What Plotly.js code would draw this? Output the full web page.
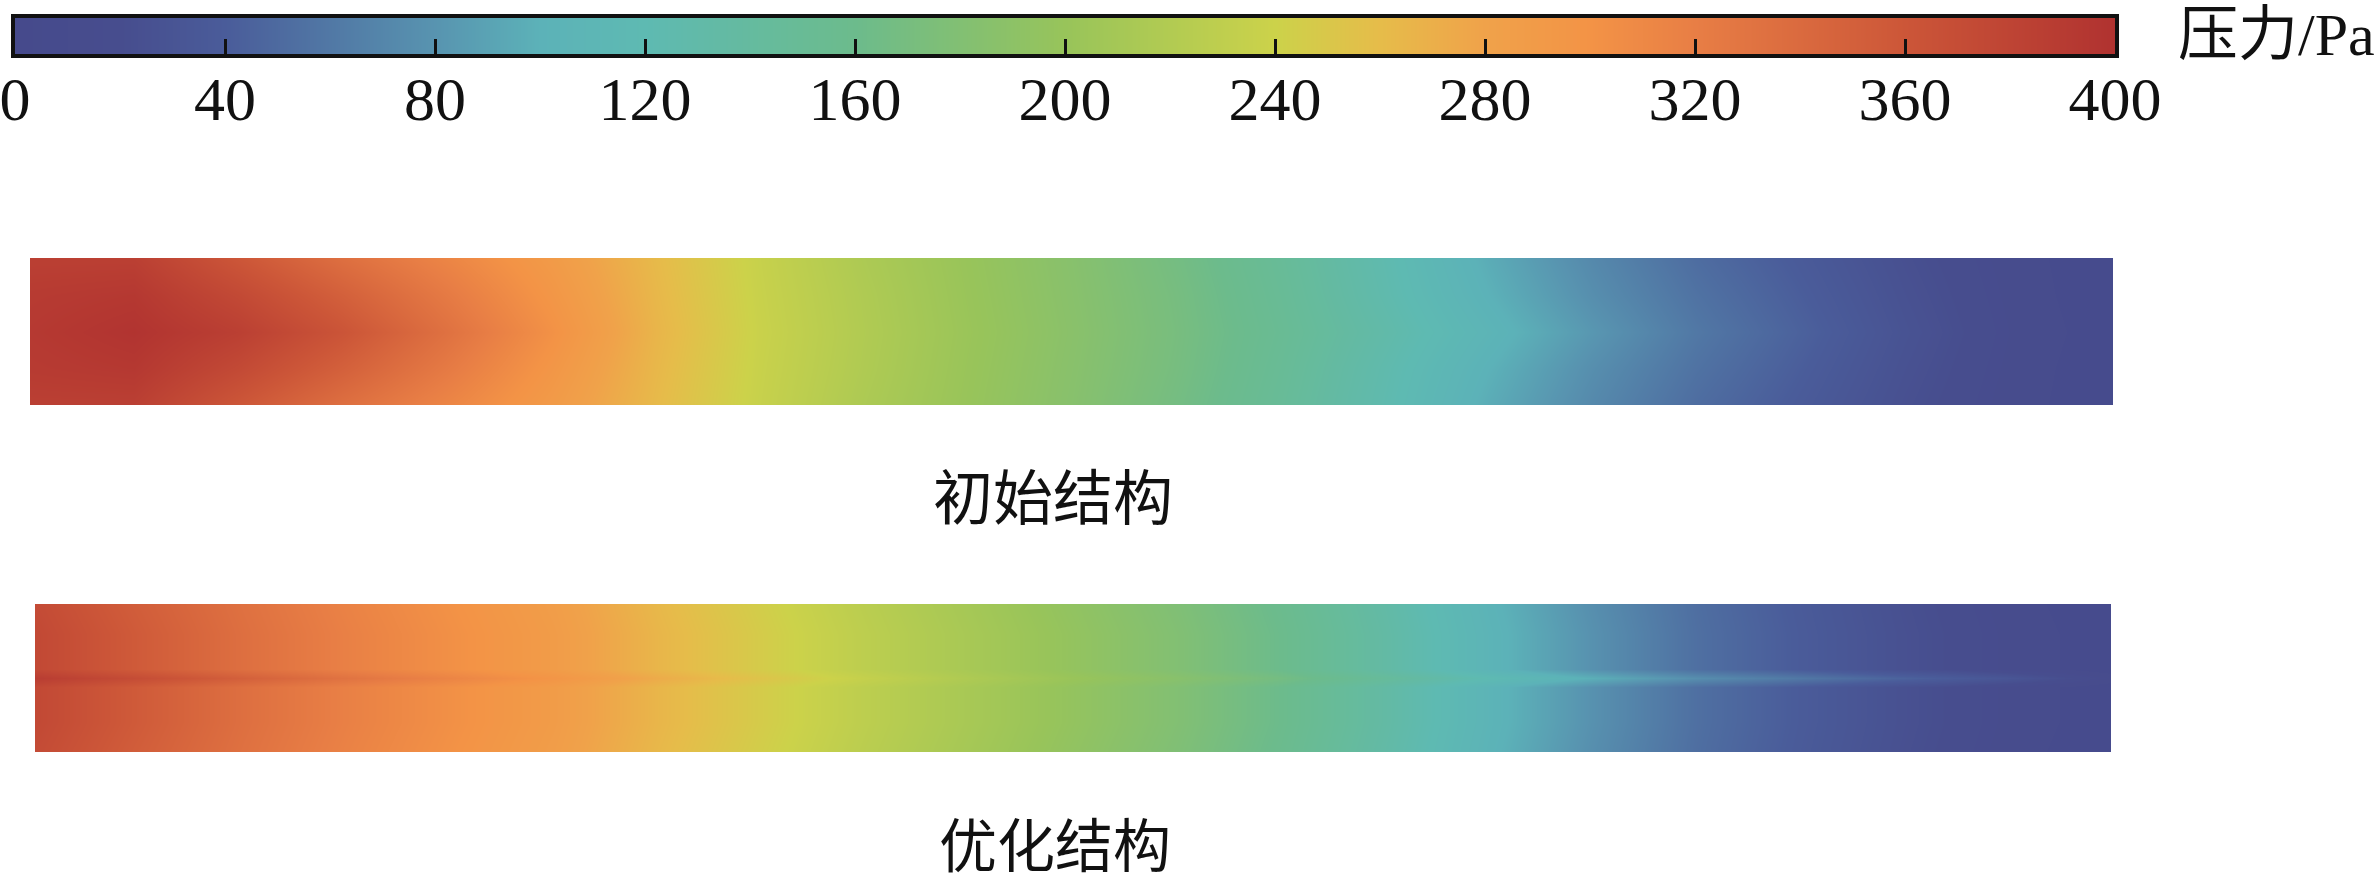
<!DOCTYPE html>
<html>
<head>
<meta charset="utf-8">
<script src="https://cdn.plot.ly/plotly-3.0.1.min.js"></script>
<style>html,body{margin:0;padding:0;background:#fff;}#chart{width:2378px;height:887px;}</style>
</head>
<body>
<div id="chart"></div>
<script>
// ---- data ----
const colorbarTitle = '压力/Pa';
const tickValues = [0, 40, 80, 120, 160, 200, 240, 280, 320, 360, 400];
const tickLabels = ['0', '40', '80', '120', '160', '200', '240', '280', '320', '360', '400'];
const pressureMin = 0;
const pressureMax = 400;

const structureLabels = ['初始结构', '优化结构'];

// positions along channel length (fraction) and across width (fraction)
const lengthPos = [0, 0.05, 0.1, 0.15, 0.2, 0.25, 0.3, 0.35, 0.4, 0.45, 0.5, 0.55, 0.6, 0.65, 0.7, 0.75, 0.8, 0.85, 0.9, 0.95, 1.0];
const widthPosInitial = [0, 0.25, 0.5, 0.75, 1];
const widthPosOptimized = [0, 0.2, 0.44, 0.5, 0.56, 0.8, 1];

// initial structure pressure field (Pa), rows = across width
const initialEdge   = [385, 385, 360, 335, 313, 290, 262, 236, 216, 200, 185, 168, 148, 124, 96, 72, 52, 38, 24, 13, 5];
const initialMid    = [390, 393, 374, 350, 324, 296, 264, 237, 218, 201, 186, 170, 150, 126, 100, 76, 56, 41, 26, 14, 5];
const initialCenter = [392, 398, 385, 362, 333, 302, 266, 238, 219, 202, 187, 171, 152, 130, 106, 82, 60, 44, 28, 15, 6];
const initialPressure = [initialEdge, initialMid, initialCenter, initialMid, initialEdge];

// optimized structure pressure field (Pa)
const optimizedEdge   = [372, 352, 333, 316, 301, 286, 263, 244, 226, 210, 194, 178, 158, 133, 103, 76, 53, 38, 24, 13, 5];
const optimizedBody   = [375, 355, 335, 318, 303, 288, 265, 246, 228, 212, 196, 180, 160, 135, 105, 78, 54, 39, 25, 14, 6];
const optimizedCenter = [388, 370, 350, 331, 314, 297, 273, 253, 234, 217, 201, 186, 168, 145, 120, 98, 76, 60, 45, 32, 14];
const optimizedPressure = [optimizedEdge, optimizedBody, optimizedBody, optimizedCenter, optimizedBody, optimizedBody, optimizedEdge];

// colour map levels (normalised) and colours
const scaleLevels = [0, 0.05, 0.1, 0.2, 0.25, 0.3, 0.4, 0.5, 0.6, 0.65, 0.7, 0.75, 0.8, 0.9, 1.0];
const scaleColors = ['#464a8c', '#474d8e', '#4a5c9a', '#5894b0', '#5cb2b8', '#5ebab2', '#6cbb8c', '#98c45a', '#ccd24a', '#e6bc4a', '#f0a24a', '#f39346', '#e87e45', '#cc5638', '#b03230'];

// ---- build ----
const colorscale = scaleLevels.map((v, i) => [v, scaleColors[i]]);
const W = 2378, H = 887;

const traces = [
  {
    type: 'heatmap', x: lengthPos, y: widthPosInitial, z: initialPressure,
    xaxis: 'x', yaxis: 'y', zmin: pressureMin, zmax: pressureMax,
    colorscale: colorscale, zsmooth: 'best', showscale: false, hoverinfo: 'z'
  },
  {
    type: 'heatmap', x: lengthPos, y: widthPosOptimized, z: optimizedPressure,
    xaxis: 'x2', yaxis: 'y2', zmin: pressureMin, zmax: pressureMax,
    colorscale: colorscale, zsmooth: 'best', showscale: false, hoverinfo: 'z'
  },
  // colour bar drawn as a strip of the same colour scale
  {
    type: 'heatmap', x: tickValues, y: [0, 1], z: [tickValues, tickValues],
    xaxis: 'x3', yaxis: 'y3', zmin: pressureMin, zmax: pressureMax,
    colorscale: colorscale, zsmooth: 'best', showscale: false, hoverinfo: 'x'
  }
];

const hiddenAxis = {showticklabels: false, showgrid: false, zeroline: false, showline: false, ticks: '', range: [0, 1], fixedrange: true};

const layout = {
  width: W, height: H,
  margin: {l: 0, r: 0, t: 0, b: 0, pad: 0, autoexpand: false},
  paper_bgcolor: '#fff', plot_bgcolor: '#fff',
  showlegend: false,
  xaxis: Object.assign({}, hiddenAxis, {domain: [30 / W, 2113 / W], anchor: 'y'}),
  yaxis: Object.assign({}, hiddenAxis, {domain: [1 - 405 / H, 1 - 258 / H], anchor: 'x'}),
  xaxis2: Object.assign({}, hiddenAxis, {domain: [35 / W, 2111 / W], anchor: 'y2'}),
  yaxis2: Object.assign({}, hiddenAxis, {domain: [1 - 752 / H, 1 - 604 / H], anchor: 'x2'}),
  xaxis3: {
    domain: [15 / W, 2115 / W], anchor: 'y3', range: [pressureMin, pressureMax],
    showgrid: false, zeroline: false, fixedrange: true,
    showline: true, mirror: true, linewidth: 4, linecolor: '#111',
    tickmode: 'array', tickvals: tickValues, ticktext: tickLabels,
    ticks: 'inside', ticklen: 15, tickwidth: 3, tickcolor: '#111',
    ticklabelstandoff: -12, ticklabeloverflow: 'allow',
    tickfont: {family: 'Liberation Serif, Times New Roman, serif', size: 62, color: '#111'}
  },
  yaxis3: {
    domain: [1 - 54 / H, 1 - 18 / H], anchor: 'x3', range: [0, 1],
    showgrid: false, zeroline: false, fixedrange: true, showticklabels: false, ticks: '',
    showline: true, mirror: true, linewidth: 4, linecolor: '#111'
  },
  annotations: [
    {text: colorbarTitle, xref: 'paper', yref: 'paper', x: 2176 / W, y: 1 - 35 / H,
     xanchor: 'left', yanchor: 'middle', showarrow: false,
     font: {family: 'Liberation Serif, Noto Sans CJK SC, serif', size: 60, color: '#111'}},
    {text: structureLabels[0], xref: 'paper', yref: 'paper', x: 1053 / W, y: 1 - 494 / H,
     xanchor: 'center', yanchor: 'middle', showarrow: false,
     font: {family: 'Noto Sans CJK SC, sans-serif', size: 60, color: '#111'}},
    {text: structureLabels[1], xref: 'paper', yref: 'paper', x: 1055 / W, y: 1 - 842 / H,
     xanchor: 'center', yanchor: 'middle', showarrow: false,
     font: {family: 'Noto Sans CJK SC, sans-serif', size: 58, color: '#111'}}
  ]
};

Plotly.newPlot('chart', traces, layout, {displayModeBar: false, staticPlot: true});
</script>
</body>
</html>
